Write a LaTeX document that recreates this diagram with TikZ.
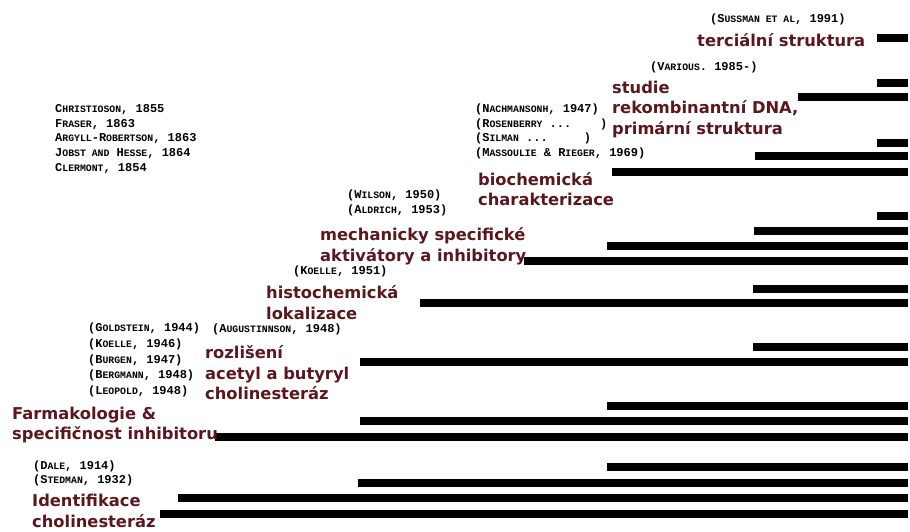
\documentclass[tikz,border=0pt]{standalone}
\usepackage{fontspec}
\newfontfamily\labelfont{DejaVu Sans}
\newfontfamily\citefont{Liberation Mono}
\usetikzlibrary{positioning}
\definecolor{labelred}{RGB}{92,22,30}
% small caps by hand
\newcommand{\sm}[1]{{\fontsize{9.8}{12}\selectfont #1}}
\tikzset{
  milestone/.style={anchor=west, inner sep=0pt, align=left, text=labelred, font=\labelfont\bfseries\fontsize{16.3}{20.5}\selectfont},
  citation/.style={anchor=west, inner sep=0pt, align=left, font=\citefont\bfseries\fontsize{12}{14.7}\selectfont},
  bar/.style={line width=8pt, black}
}

\begin{document}
\begin{tikzpicture}[x=1pt, y=-1pt]
    \useasboundingbox (0,0) rectangle (910,531);

    % Casove useky
    \foreach \y/\xs in {
        38/877, 83/877, 97/798,
        143/877, 156/755, 172/612,
        216/877, 231/754, 246/607, 261/524,
        289/753, 303/420,
        347/753, 362/360,
        406/607, 421/360, 437/215,
        467/607, 483/358, 498/178, 514/160
    } {
        \draw[bar] (\xs,\y) -- (908,\y);
    }

    % Milniky
    \node[milestone] (terciarni) at (697,40) {terciální struktura};
    \node[milestone] (studie) at (612,109) {studie\\rekombinantní DNA,\\primární struktura};
    \node[milestone] (biochem) at (478,189) {biochemická\\charakterizace};
    \node[milestone] (mechan) at (320,246) {mechanicky specifické\\aktivátory a inhibitory};
    \node[milestone] (histo) at (266,302.5) {histochemická\\lokalizace};
    \node[milestone] (rozliseni) at (205,373) {rozlišení\\acetyl a butyryl\\cholinesteráz};
    \node[milestone] (farmako) at (12,425) {Farmakologie \&\\specifičnost inhibitoru};
    \node[milestone] (identif) at (32,511) {Identifikace\\cholinesteráz};

    % Citace
    \node[citation] (historie) at (55,139) {C\sm{HRISTIOSON}, 1855\\F\sm{RASER}, 1863\\A\sm{RGYLL}-R\sm{OBERTSON}, 1863\\J\sm{OBST AND} H\sm{ESSE}, 1864\\C\sm{LERMONT}, 1854};
    \node[citation] (sussman) at (710,19) {(S\sm{USSMAN ET AL}, 1991)};
    \node[citation] (various) at (650,67) {(V\sm{ARIOUS}. 1985-)};
    \node[citation] (nachman) at (475,131.5) {(N\sm{ACHMANSONH}, 1947)\\(R\sm{OSENBERRY} ...~~~~)\\(S\sm{ILMAN} ...~~~~~)\\(M\sm{ASSOULIE} \& R\sm{IEGER}, 1969)};
    \node[citation] (wilson) at (347,203) {(W\sm{ILSON}, 1950)\\(A\sm{LDRICH}, 1953)};
    \node[citation] (koelleA) at (293,271) {(K\sm{OELLE}, 1951)};
    \node[citation, font=\citefont\bfseries\fontsize{12}{15.7}\selectfont] (goldstein) at (88,360) {(G\sm{OLDSTEIN}, 1944)\\(K\sm{OELLE}, 1946)\\(B\sm{URGEN}, 1947)\\(B\sm{ERGMANN}, 1948)\\(L\sm{EOPOLD}, 1948)};
    \node[citation] (augustin) at (212,329) {(A\sm{UGUSTINNSON}, 1948)};
    \node[citation] (dale) at (33,473.5) {(D\sm{ALE}, 1914)\\(S\sm{TEDMAN}, 1932)};

\end{tikzpicture}
\end{document}
